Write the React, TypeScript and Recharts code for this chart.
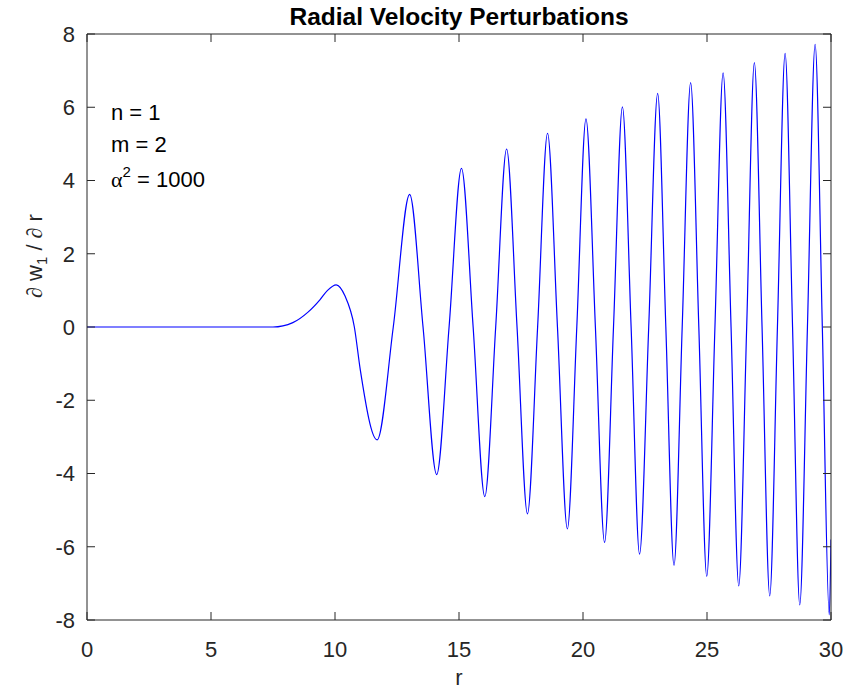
import React from 'react';
import { LineChart, Line, XAxis, YAxis } from 'recharts';

// r positions (peaks, troughs and zero crossings)
const rValues = [
  0, 7.5, 8.3, 8.9, 9.4, 9.7, 10.05, 10.4, 10.78, 11.02, 11.7,
  12.35, 13.01, 13.55, 14.1, 14.6, 15.1, 15.57, 16.04, 16.48, 16.92,
  17.34, 17.76, 18.17, 18.57, 18.97, 19.37, 19.75, 20.12, 20.5, 20.87,
  21.23, 21.59, 21.94, 22.28, 22.65, 23.01, 23.34, 23.67, 24.0, 24.34,
  24.67, 24.99, 25.32, 25.65, 25.97, 26.28, 26.6, 26.91, 27.22, 27.53,
  27.84, 28.15, 28.45, 28.74, 29.05, 29.36, 29.65, 29.93, 30,
];
const dwValues = [
  0, 0, 0.12, 0.4, 0.75, 1.0, 1.15, 0.85, 0, -1.17, -3.08,
  0, 3.62, 0, -4.03, 0, 4.33, 0, -4.63, 0, 4.86,
  0, -5.1, 0, 5.29, 0, -5.51, 0, 5.68, 0, -5.88,
  0, 6.01, 0, -6.2, 0, 6.38, 0, -6.51, 0, 6.67,
  0, -6.81, 0, 6.94, 0, -7.07, 0, 7.22, 0, -7.34,
  0, 7.47, 0, -7.59, 0, 7.72, 0, -7.86, -5.8,
];
const xTicks = [0, 5, 10, 15, 20, 25, 30];
const yTicks = [-8, -6, -4, -2, 0, 2, 4, 6, 8];
const titleText = 'Radial Velocity Perturbations';
const xLabelText = 'r';
const paramLines = ['n = 1', 'm = 2'];
const alphaValue = '1000';

const data = rValues.map((r, i) => ({ r, v: dwValues[i] }));

const FONT = '"Liberation Sans", Arial, Helvetica, sans-serif';
const AXIS = '#262626';
const blank = () => '';

export default function App() {
  return (
    <div style={{ position: 'absolute', left: 0, top: 0, width: 845, height: 691, background: '#fff' }}>
      <LineChart
        width={845}
        height={691}
        data={data}
        margin={{ top: 33, right: 13, bottom: 31, left: 0 }}
      >
        <XAxis
          dataKey="r"
          type="number"
          domain={[0, 30]}
          ticks={xTicks}
          allowDataOverflow
          height={40}
          stroke={AXIS}
          tickSize={-8}
          tickMargin={29}
          tick={{ fill: AXIS, fontSize: 22, fontFamily: FONT }}
        />
        <XAxis
          xAxisId="top"
          orientation="top"
          dataKey="r"
          type="number"
          domain={[0, 30]}
          ticks={xTicks}
          allowDataOverflow
          height={1}
          stroke={AXIS}
          tickSize={-8}
          tickFormatter={blank}
        />
        <YAxis
          type="number"
          domain={[-8, 8]}
          ticks={yTicks}
          allowDataOverflow
          width={87}
          stroke={AXIS}
          tickSize={-8}
          tickMargin={20}
          tick={{ fill: AXIS, fontSize: 22, fontFamily: FONT }}
        />
        <YAxis
          yAxisId="right"
          orientation="right"
          type="number"
          domain={[-8, 8]}
          ticks={yTicks}
          allowDataOverflow
          width={1}
          stroke={AXIS}
          tickSize={-8}
          tickFormatter={blank}
        />
        <Line
          xAxisId="top"
          yAxisId="right"
          type="monotone"
          dataKey="v"
          stroke="none"
          dot={false}
          activeDot={false}
          isAnimationActive={false}
        />
        <Line
          type="monotone"
          dataKey="v"
          stroke="#0000ff"
          strokeWidth={1.2}
          dot={false}
          isAnimationActive={false}
        />
      </LineChart>
      <svg
        width={845}
        height={691}
        style={{ position: 'absolute', left: 0, top: 0, pointerEvents: 'none' }}
      >
        <text x={459} y={25} textAnchor="middle" fontFamily={FONT} fontWeight="bold" fontSize={24.5} fill="#000">
          {titleText}
        </text>
        <text x={459} y={685} textAnchor="middle" fontFamily={FONT} fontSize={22} fill={AXIS}>
          {xLabelText}
        </text>
        <text
          transform="translate(42,256) rotate(-90)"
          textAnchor="middle"
          fontFamily={FONT}
          fontSize={22}
          fill={AXIS}
        >
          <tspan fontFamily='"Liberation Serif", serif' fontStyle="italic">∂</tspan>
          <tspan> w</tspan>
          <tspan fontSize={15} dy={5}>1</tspan>
          <tspan dy={-5}> / </tspan>
          <tspan fontFamily='"Liberation Serif", serif' fontStyle="italic">∂</tspan>
          <tspan> r</tspan>
        </text>
        <text x={111} y={120} fontFamily={FONT} fontSize={22} fill="#000">{paramLines[0]}</text>
        <text x={111} y={152} fontFamily={FONT} fontSize={22} fill="#000">{paramLines[1]}</text>
        <text x={111} y={187} fontFamily={FONT} fontSize={22} fill="#000">
          <tspan fontFamily='"Liberation Serif", serif'>α</tspan>
          <tspan fontSize={15} dy={-10}>2</tspan>
          <tspan dy={10}>{' = ' + alphaValue}</tspan>
        </text>
      </svg>
    </div>
  );
}
